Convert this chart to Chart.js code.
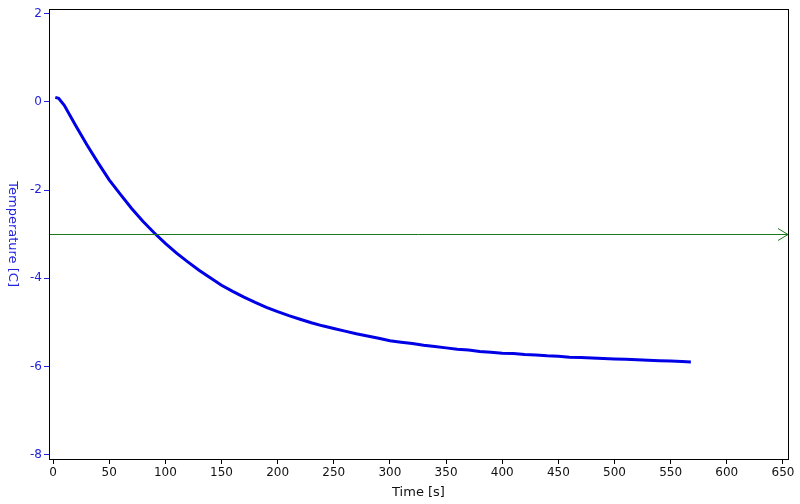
<!DOCTYPE html>
<html>
<head>
<meta charset="utf-8">
<script src="https://cdn.jsdelivr.net/npm/chart.js@4.4.0/dist/chart.umd.min.js"></script>
<style>
  html, body { margin: 0; padding: 0; background: #fff; }
  #wrap { width: 800px; height: 504px; }
</style>
</head>
<body>
<div id="wrap"><canvas id="cv" width="800" height="504"></canvas></div>
<script>
// Lecturas de la curva de enfriamiento
const timeS = [2, 5, 10, 20, 30, 40, 50, 60, 70, 80, 90, 100, 110, 120, 130, 140, 150,
  160, 170, 180, 190, 200, 210, 220, 230, 240, 250, 260, 270, 280, 290, 300, 310, 320,
  330, 340, 350, 360, 370, 380, 390, 400, 410, 420, 430, 440, 450, 460, 470, 480, 490,
  500, 510, 520, 530, 540, 550, 560, 568];
const tempC = [0.10, 0.08, -0.08, -0.53, -0.97, -1.38, -1.77, -2.10, -2.42, -2.71, -2.97,
  -3.21, -3.43, -3.63, -3.82, -3.99, -4.16, -4.30, -4.43, -4.55, -4.66, -4.76, -4.85,
  -4.93, -5.01, -5.08, -5.14, -5.20, -5.26, -5.31, -5.36, -5.42, -5.45, -5.48, -5.52,
  -5.55, -5.58, -5.61, -5.63, -5.66, -5.68, -5.70, -5.71, -5.73, -5.74, -5.76, -5.77,
  -5.79, -5.80, -5.81, -5.82, -5.83, -5.84, -5.85, -5.86, -5.87, -5.88, -5.89, -5.90];

const xTicks = [0, 50, 100, 150, 200, 250, 300, 350, 400, 450, 500, 550, 600, 650];
const yTicks = [-8, -6, -4, -2, 0, 2];
const markerLevel = -3;   // línea verde con flecha

const FONT = 'DejaVu Sans';
const BLUE_TXT = '#2222dd';
const LINE_BLUE = '#0000e6';

// Marco negro + línea verde con punta de flecha + título Y girado (arriba→abajo)
const extras = {
  id: 'extras',
  afterDatasetsDraw(chart) {
    const { ctx, chartArea: a, scales } = chart;
    const y = Math.round(scales.y.getPixelForValue(markerLevel)) + 0.5;
    ctx.save();
    ctx.strokeStyle = '#1a7a1a';
    ctx.lineWidth = 1;
    ctx.beginPath();
    ctx.moveTo(a.left, y);
    ctx.lineTo(a.right, y);
    ctx.moveTo(a.right - 10, y - 6);
    ctx.lineTo(a.right, y);
    ctx.lineTo(a.right - 10, y + 6);
    ctx.stroke();

    ctx.strokeStyle = '#000';
    ctx.lineWidth = 1;
    ctx.strokeRect(Math.round(a.left) + 0.5, Math.round(a.top) + 0.5,
      Math.round(a.right - a.left), Math.round(a.bottom - a.top));

    ctx.translate(12, (a.top + a.bottom) / 2);
    ctx.rotate(Math.PI / 2);
    ctx.fillStyle = BLUE_TXT;
    ctx.font = '13px "' + FONT + '"';
    ctx.textAlign = 'center';
    ctx.textBaseline = 'middle';
    ctx.fillText('Temperature [C]', 0, 0);
    ctx.restore();
  }
};

new Chart(document.getElementById('cv'), {
  type: 'scatter',
  data: {
    datasets: [{
      data: timeS.map((t, i) => ({ x: t, y: tempC[i] })),
      showLine: true,
      borderColor: LINE_BLUE,
      borderWidth: 3,
      pointRadius: 0,
      tension: 0
    }]
  },
  options: {
    responsive: false,
    animation: false,
    layout: { padding: { left: 0, top: 8, right: 12, bottom: 0 } },
    plugins: { legend: { display: false }, tooltip: { enabled: false } },
    scales: {
      x: {
        type: 'linear',
        min: -3.6,
        max: 654.5,
        afterBuildTicks: s => { s.ticks = xTicks.map(v => ({ value: v })); },
        afterFit: s => { s.height = 45; },
        border: { display: false },
        grid: { drawOnChartArea: false, drawTicks: true, tickLength: 5, color: '#000' },
        ticks: { color: '#111', font: { family: FONT, size: 12 }, padding: 2, maxRotation: 0 },
        title: { display: true, text: 'Time [s]', color: '#111', font: { family: FONT, size: 13 }, padding: 4 }
      },
      y: {
        type: 'linear',
        min: -8.1,
        max: 2.1,
        afterBuildTicks: s => { s.ticks = yTicks.map(v => ({ value: v })); },
        afterFit: s => { s.width = 49; },
        border: { display: false },
        grid: { drawOnChartArea: false, drawTicks: true, tickLength: 5, color: BLUE_TXT },
        ticks: { color: BLUE_TXT, font: { family: FONT, size: 12 }, padding: 2 }
      }
    }
  },
  plugins: [extras]
});
</script>
</body>
</html>
